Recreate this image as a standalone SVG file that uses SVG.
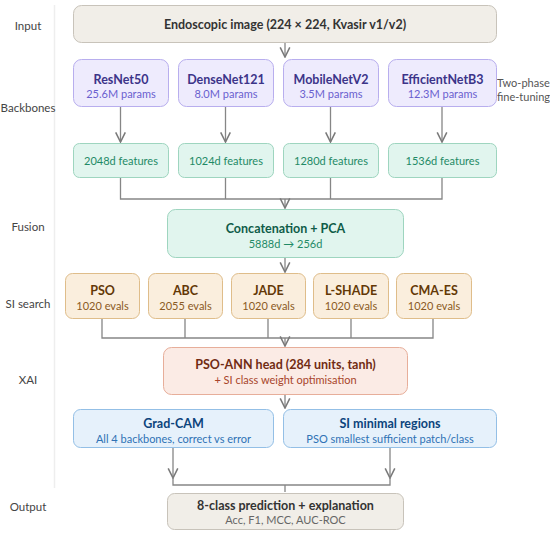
<svg xmlns="http://www.w3.org/2000/svg" width="550" height="534" viewBox="0 0 550 534">
<defs>
<marker id="ah" markerUnits="userSpaceOnUse" markerWidth="12" markerHeight="12" viewBox="0 0 10 10" refX="9" refY="5" orient="auto">
<path d="M1,1 L9,5 L1,9" fill="none" stroke="#7a7a7a" stroke-width="1.3"/>
</marker>
<style>
text{font-family:Lato,"Noto Sans","DejaVu Sans",sans-serif;text-anchor:middle}
.lbl{font-size:11.5px;fill:#444}
.t{font-size:12.5px;font-weight:700}
.s{font-size:11px}
.c{fill:none;stroke:#868686;stroke-width:1.3}
.gray rect{fill:#f1eee8;stroke:#c8c3ba}
.pur rect{fill:#eeebfd;stroke:#b8aeee}
.pur .t{fill:#3c3489}.pur .s{fill:#6a5fcf}
.grn rect{fill:#e1f5ee;stroke:#9ed5bf}
.grn .t{fill:#0f5c48}.grn .s{fill:#1f8a66}
.org rect{fill:#faeedd;stroke:#dfbd8a}
.org .t{fill:#633806}.org .s{fill:#8a5a24}
.red rect{fill:#fbebe5;stroke:#e7ae9a}
.red .t{fill:#712b13}.red .s{fill:#a8452a}
.blu rect{fill:#e6f1fb;stroke:#93bfe6}
.blu .t{fill:#0c447c}.blu .s{fill:#2f72b5}
</style>
</defs>
<rect width="550" height="534" fill="#ffffff"/>
<line x1="54.5" y1="5" x2="54.5" y2="488" stroke="#eeeeee" stroke-width="1.5"/>
<g id="labels">
<text class="lbl" x="28" y="30">Input</text>
<text class="lbl" x="28" y="112">Backbones</text>
<text class="lbl" x="28" y="231">Fusion</text>
<text class="lbl" x="28" y="308">SI search</text>
<text class="lbl" x="28" y="384">XAI</text>
<text class="lbl" x="28" y="511">Output</text>
<text class="lbl" x="497" y="87" style="text-anchor:start;fill:#555;font-size:11px">Two-phase</text>
<text class="lbl" x="497" y="101" style="text-anchor:start;fill:#555;font-size:11px">fine-tuning</text>
</g>
<g id="connectors">
<path class="c" d="M285,42 V57" marker-end="url(#ah)"/>
<path class="c" d="M120.5,107 V142" marker-end="url(#ah)"/>
<path class="c" d="M225.5,107 V142" marker-end="url(#ah)"/>
<path class="c" d="M330.5,107 V142" marker-end="url(#ah)"/>
<path class="c" d="M442,107 V142" marker-end="url(#ah)"/>
<path class="c" d="M120.5,177 V199 H442 V177 M225.5,177 V199 M330.5,177 V199"/>
<path class="c" d="M285,199 V208" marker-end="url(#ah)"/>
<path class="c" d="M285,257 V272" marker-end="url(#ah)"/>
<path class="c" d="M102,318 V338 H433 V318 M185,318 V338 M268,318 V338 M351,318 V338"/>
<path class="c" d="M285,338 V346" marker-end="url(#ah)"/>
<path class="c" d="M285,394 V408" marker-end="url(#ah)"/>
<path class="c" d="M173,447 V478" marker-end="url(#ah)"/>
<path class="c" d="M390,447 V478" marker-end="url(#ah)"/>
<path class="c" d="M173,477 V485 H390 V477 M285,485 V492"/>
</g>
<g id="input" class="gray">
<rect x="73.5" y="5.5" width="423" height="37" rx="8"/>
<text class="t" x="285" y="29" fill="#333">Endoscopic image (224 × 224, Kvasir v1/v2)</text>
</g>
<g id="resnet50" class="pur">
<rect x="73.5" y="59.5" width="95" height="47" rx="8"/>
<text class="t" x="121" y="84">ResNet50</text>
<text class="s" x="121" y="98">25.6M params</text>
</g>
<g id="densenet121" class="pur">
<rect x="178.5" y="59.5" width="95" height="47" rx="8"/>
<text class="t" x="226" y="84">DenseNet121</text>
<text class="s" x="226" y="98">8.0M params</text>
</g>
<g id="mobilenetv2" class="pur">
<rect x="283.5" y="59.5" width="95" height="47" rx="8"/>
<text class="t" x="331" y="84">MobileNetV2</text>
<text class="s" x="331" y="98">3.5M params</text>
</g>
<g id="efficientnetb3" class="pur">
<rect x="388.5" y="59.5" width="108" height="47" rx="8"/>
<text class="t" x="442.5" y="84">EfficientNetB3</text>
<text class="s" x="442.5" y="98">12.3M params</text>
</g>
<g id="feat2048" class="grn">
<rect x="73.5" y="143.5" width="95" height="34" rx="6"/>
<text class="s" x="121" y="165">2048d features</text>
</g>
<g id="feat1024" class="grn">
<rect x="178.5" y="143.5" width="95" height="34" rx="6"/>
<text class="s" x="226" y="165">1024d features</text>
</g>
<g id="feat1280" class="grn">
<rect x="283.5" y="143.5" width="95" height="34" rx="6"/>
<text class="s" x="331" y="165">1280d features</text>
</g>
<g id="feat1536" class="grn">
<rect x="388.5" y="143.5" width="108" height="34" rx="6"/>
<text class="s" x="442.5" y="165">1536d features</text>
</g>
<g id="fusion" class="grn">
<rect x="167.5" y="209.5" width="236" height="48" rx="8"/>
<text class="t" x="285.5" y="233">Concatenation + PCA</text>
<text class="s" x="285.5" y="248">5888d → 256d</text>
</g>
<g id="pso" class="org">
<rect x="65.5" y="273.5" width="74" height="45" rx="7"/>
<text class="t" x="102.5" y="295">PSO</text>
<text class="s" x="102.5" y="310">1020 evals</text>
</g>
<g id="abc" class="org">
<rect x="148.5" y="273.5" width="74" height="45" rx="7"/>
<text class="t" x="185.5" y="295">ABC</text>
<text class="s" x="185.5" y="310">2055 evals</text>
</g>
<g id="jade" class="org">
<rect x="231.5" y="273.5" width="74" height="45" rx="7"/>
<text class="t" x="268.5" y="295">JADE</text>
<text class="s" x="268.5" y="310">1020 evals</text>
</g>
<g id="lshade" class="org">
<rect x="313.5" y="273.5" width="75" height="45" rx="7"/>
<text class="t" x="351" y="295">L-SHADE</text>
<text class="s" x="351" y="310">1020 evals</text>
</g>
<g id="cmaes" class="org">
<rect x="396.5" y="273.5" width="75" height="45" rx="7"/>
<text class="t" x="434" y="295">CMA-ES</text>
<text class="s" x="434" y="310">1020 evals</text>
</g>
<g id="psoann" class="red">
<rect x="163.5" y="347.5" width="244" height="47" rx="8"/>
<text class="t" x="285.5" y="369">PSO-ANN head (284 units, tanh)</text>
<text class="s" x="285.5" y="384">+ SI class weight optimisation</text>
</g>
<g id="gradcam" class="blu">
<rect x="73.5" y="409.5" width="200" height="38" rx="7"/>
<text class="t" x="173.5" y="428">Grad-CAM</text>
<text class="s" x="173.5" y="443">All 4 backbones, correct vs error</text>
</g>
<g id="siminimal" class="blu">
<rect x="283.5" y="409.5" width="213" height="38" rx="7"/>
<text class="t" x="390" y="428">SI minimal regions</text>
<text class="s" x="390" y="443">PSO smallest sufficient patch/class</text>
</g>
<g id="output" class="gray">
<rect x="167.5" y="493.5" width="236" height="36" rx="7"/>
<text class="t" x="285.5" y="510" fill="#333">8-class prediction + explanation</text>
<text class="s" x="285.5" y="524" fill="#666">Acc, F1, MCC, AUC-ROC</text>
</g>
</svg>
